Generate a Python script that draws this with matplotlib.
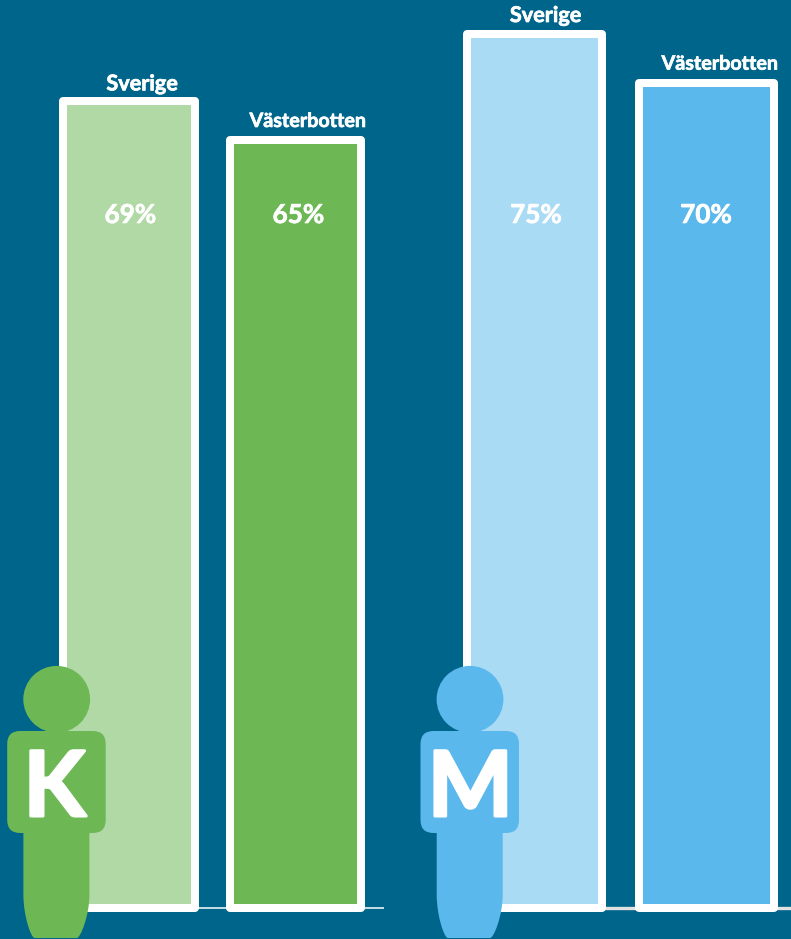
import matplotlib
matplotlib.use("Agg")
import matplotlib.pyplot as plt
import matplotlib.patheffects as pe
from matplotlib.patches import Circle, FancyBboxPatch, PathPatch
from matplotlib.path import Path

regions = ["Sverige", "Västerbotten", "Sverige", "Västerbotten"]
value_labels = ["69%", "65%", "75%", "70%"]
# bar heights, they differ a bit from the printed labels
bar_values = [68.9, 65.6, 74.7, 70.5]

bg = "#00658a"
green = "#6db755"
light_green = "#b1d9a5"
blue = "#5bb8ec"
light_blue = "#a9dbf5"
bar_colors = [light_green, green, light_blue, blue]

W, H = 791, 939
px_per_pct = 11.7
base_px = 907.5
lw = 8 * 72 / 100

bar_left = [63.3, 229.8, 467, 638.5]
bar_right = [194.5, 360.5, 601.5, 773.5]
label_x = [142, 308, 545.5, 720]
label_offset = [17.5, 19, 18, 19]
label_size = [15.6, 14.2, 15.6, 14.2]
pct_x = [130.5, 298.5, 536, 706]

plt.rcParams["font.family"] = ["Lato", "DejaVu Sans"]
plt.rcParams["font.weight"] = "bold"

# thickens the Lato glyphs a little, the original font is heavier
thick = [pe.withStroke(linewidth=0.5, foreground="white")]

fig = plt.figure(figsize=(W / 100, H / 100), dpi=100, facecolor=bg)

# overlay in pixel coords for the baseline and the people
over = fig.add_axes([0, 0, 1, 1], zorder=0)
over.set_xlim(0, W)
over.set_ylim(H, 0)
over.axis("off")
over.plot([195, 384], [907.5, 907.5], color="#c9dde6", lw=1.4, solid_capstyle="butt")
over.plot([600, 791], [908, 908], color="#e2e2e2", lw=2.4, solid_capstyle="butt")

ax = fig.add_axes([0, 0, 1, 1], zorder=1)
ax.patch.set_alpha(0)
ax.set_xlim(0, W)
ax.set_ylim(-(H - base_px) / px_per_pct, base_px / px_per_pct)
ax.axis("off")

for i in range(4):
    ax.bar(bar_left[i], bar_values[i], width=bar_right[i] - bar_left[i], align="edge",
           color=bar_colors[i], edgecolor="white", linewidth=lw, joinstyle="round")
    ax.annotate(regions[i], (label_x[i], bar_values[i]), xytext=(0, label_offset[i] * 0.72),
                textcoords="offset points", ha="center", va="center", color="white",
                fontsize=label_size[i], path_effects=thick)
    ax.text(pct_x[i], (base_px - 215) / px_per_pct, value_labels[i], ha="center", va="center",
            color="white", fontsize=18.8, path_effects=thick)

top = fig.add_axes([0, 0, 1, 1], zorder=2)
top.patch.set_alpha(0)
top.set_xlim(0, W)
top.set_ylim(H, 0)
top.axis("off")


def person(cx, color, letter, letter_x):
    top.add_patch(Circle((cx, 699.3), 33.4, color=color, lw=0))
    top.add_patch(FancyBboxPatch((cx - 36.5, 744), 72.5, 76,
                                 boxstyle="round,pad=13,rounding_size=13", color=color, lw=0))
    left, right = cx - 33.3, cx + 32.7
    verts = [(left, 825), (right, 825), (right, 895),
             (right, 915), (cx + 24, 938), (cx + 20, 938),
             (cx - 22, 938),
             (cx - 26, 938), (left, 915), (left, 895),
             (left, 825)]
    codes = [Path.MOVETO, Path.LINETO, Path.LINETO,
             Path.CURVE4, Path.CURVE4, Path.CURVE4,
             Path.LINETO,
             Path.CURVE4, Path.CURVE4, Path.CURVE4,
             Path.CLOSEPOLY]
    top.add_patch(PathPatch(Path(verts, codes), color=color, lw=0))
    top.text(letter_x, 782.5, letter, ha="center", va="center_baseline", color="white", fontsize=65,
             path_effects=[pe.withStroke(linewidth=2.2, foreground="white")])


person(56.7, green, "K", 54.5)
person(470, blue, "M", 470.3)

fig.savefig("out.png", dpi=100, facecolor=bg)
